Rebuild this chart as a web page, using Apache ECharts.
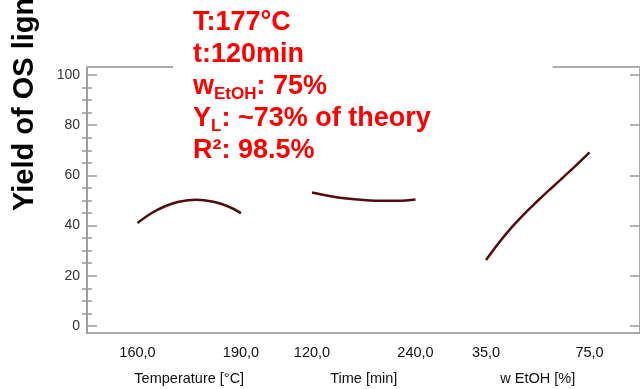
<!DOCTYPE html>
<html>
<head>
<meta charset="utf-8">
<script src="https://cdn.jsdelivr.net/npm/echarts@6/dist/echarts.min.js"></script>
<style>html,body{margin:0;padding:0;background:#fff;}#c{width:640px;height:389px;}</style>
</head>
<body>
<div id="c"></div>
<script>
// ---- data ----
var yTitle = 'Yield of OS lignin [%]';
var yMajorTicks = [0, 20, 40, 60, 80, 100];
var yMinorTicks = [5, 10, 15, 25, 30, 35, 45, 50, 55, 65, 70, 75, 85, 90, 95];
var panelNames = ['Temperature [°C]', 'Time [min]', 'w EtOH [%]'];
var panelRanges = [[160, 190], [120, 240], [35, 75]];
var tempX = [160, 164, 168, 172, 177, 182, 186, 190];
var tempY = [41.0, 44.9, 47.7, 49.5, 50.3, 49.5, 47.8, 45.0];
var timeX = [120, 140, 160, 180, 200, 220, 240];
var timeY = [53.2, 51.8, 50.8, 50.2, 49.9, 49.9, 50.4];
var etohX = [35, 40, 45, 50, 55, 60, 65, 70, 75];
var etohY = [26.3, 33.2, 39.4, 44.9, 49.9, 54.7, 59.4, 64.2, 69.2];
var infoLines = ['T:177°C', 't:120min', ['w', 'EtOH', ': 75%'], ['Y', 'L', ': ~73% of theory'], 'R²: 98.5%'];

// ---- layout ----
var YMIN = -2.79, YMAX = 103.19;
var FONT = '"Liberation Sans", Arial, sans-serif';
var GTOP = 67, GBOT = 56;
var panelLeft = [137.5, 312, 486];
var panelW = 103.5;

var chart = echarts.init(document.getElementById('c'), null, {renderer: 'canvas'});

function pairs(xs, ys) { return xs.map(function (x, i) { return [x, ys[i]]; }); }
function fmt1(v) { return v.toFixed(1).replace('.', ','); }

var grids = [{left: 87, right: 0, top: GTOP, bottom: GBOT, outerBoundsMode: 'none', containLabel: false}];
var xAxes = [
  {gridIndex: 0, type: 'value', position: 'bottom', min: 0, max: 1,
   axisLine: {show: true, onZero: false, lineStyle: {color: '#8f8f8f', width: 1.5}},
   axisTick: {show: false}, axisLabel: {show: false}, splitLine: {show: false}},
  {gridIndex: 0, type: 'value', position: 'top', min: 0, max: 1,
   axisLine: {show: true, onZero: false, lineStyle: {color: '#ababab', width: 2}},
   axisTick: {show: false}, axisLabel: {show: false}, splitLine: {show: false}}
];
var yBase = {gridIndex: 0, type: 'value', min: YMIN, max: YMAX, splitLine: {show: false}};
var yAxes = [
  Object.assign({}, yBase, {position: 'left',
    axisLine: {show: true, onZero: false, lineStyle: {color: '#7f7f7f', width: 1.5}},
    axisTick: {show: true, inside: true, length: 10, customValues: yMajorTicks, lineStyle: {color: '#9a9a9a', width: 1.5}},
    axisLabel: {show: true, customValues: yMajorTicks, margin: 7, color: '#333', fontSize: 14, fontFamily: FONT}}),
  Object.assign({}, yBase, {position: 'left',
    axisLine: {show: false},
    axisTick: {show: true, inside: true, length: 5, customValues: yMinorTicks, lineStyle: {color: '#9a9a9a', width: 1.5}},
    axisLabel: {show: false}}),
  Object.assign({}, yBase, {position: 'right',
    axisLine: {show: true, onZero: false, lineStyle: {color: '#8f8f8f', width: 1.5}},
    axisTick: {show: true, inside: true, length: 10, customValues: yMajorTicks, lineStyle: {color: '#9a9a9a', width: 1.5}},
    axisLabel: {show: false}}),
  Object.assign({}, yBase, {position: 'right',
    axisLine: {show: false},
    axisTick: {show: true, inside: true, length: 5, customValues: yMinorTicks, lineStyle: {color: '#9a9a9a', width: 1.5}},
    axisLabel: {show: false}})
];

var seriesData = [pairs(tempX, tempY), pairs(timeX, timeY), pairs(etohX, etohY)];
var series = [];
for (var p = 0; p < 3; p++) {
  grids.push({left: panelLeft[p], width: panelW, top: GTOP, bottom: GBOT, outerBoundsMode: 'none', containLabel: false});
  xAxes.push({gridIndex: p + 1, type: 'value', position: 'bottom',
    min: panelRanges[p][0], max: panelRanges[p][1],
    name: panelNames[p], nameLocation: 'middle', nameGap: 38,
    nameTextStyle: {color: '#111', fontSize: 14.5, fontFamily: FONT},
    axisLine: {show: false}, axisTick: {show: false}, splitLine: {show: false},
    axisLabel: {show: true, customValues: panelRanges[p], margin: 12, color: '#111', fontSize: 14.5, fontFamily: FONT,
      formatter: fmt1}});
  yAxes.push({gridIndex: p + 1, type: 'value', min: YMIN, max: YMAX, show: false});
  series.push({type: 'line', xAxisIndex: p + 2, yAxisIndex: p + 4, data: seriesData[p],
    smooth: 0.4, symbol: 'none', clip: false, silent: true,
    lineStyle: {color: '#4f0d0d', width: 2.5}});
}

var infoText = infoLines.map(function (l) {
  if (typeof l === 'string') return '{a|' + l + '}';
  return '{a|' + l[0] + '}{s|' + l[1] + '}{a|' + l[2] + '}';
}).join('\n');

chart.setOption({
  animation: false,
  backgroundColor: '#fff',
  textStyle: {fontFamily: FONT},
  grid: grids,
  xAxis: xAxes,
  yAxis: yAxes,
  series: series,
  title: {
    text: infoText, left: 173, top: 0, padding: [7, 122, 4, 20], backgroundColor: '#fff',
    textStyle: {
      rich: {
        a: {fontSize: 27, fontWeight: 'bold', color: '#ff0000', lineHeight: 32, fontFamily: FONT},
        s: {fontSize: 17, fontWeight: 'bold', color: '#ff0000', lineHeight: 19, verticalAlign: 'bottom', fontFamily: FONT}
      }
    }
  },
  graphic: [{
    type: 'text', x: 25, y: 211, rotation: Math.PI / 2,
    style: {text: yTitle, fill: '#000', font: 'bold 29px ' + FONT, align: 'left', verticalAlign: 'middle'}
  }]
});
</script>
</body>
</html>
